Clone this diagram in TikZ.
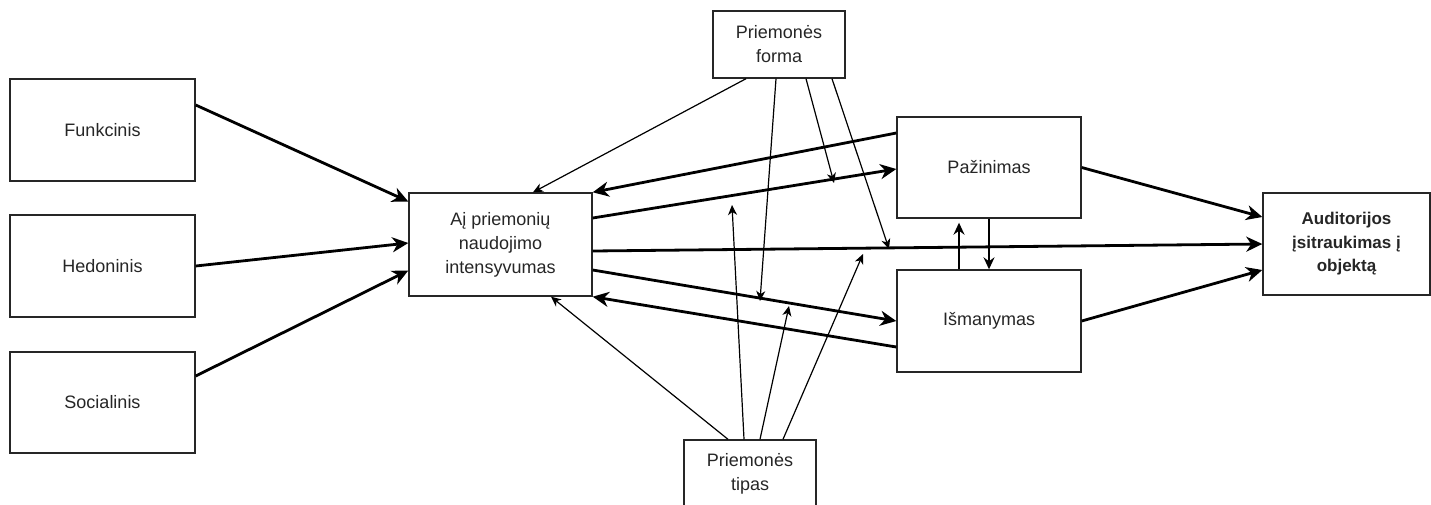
\documentclass[tikz,border=0pt]{standalone}
\usepackage{fontspec}
\setmainfont{Liberation Sans}
\usetikzlibrary{arrows.meta}
\begin{document}
\begin{tikzpicture}[x=1pt,y=-1pt,
  box/.style={draw=black!85, line width=1.4pt, fill=white, text=black!85,
    align=center, inner sep=0pt, font=\fontsize{18}{24}\selectfont},
  heavy/.style={draw=black, line width=2.8pt, -{Stealth[length=16pt,width=15pt,inset=5pt]}},
  medium/.style={draw=black, line width=1.8pt, -{Stealth[length=12pt,width=11pt,inset=4pt]}},
  light/.style={draw=black, line width=1.2pt, -{Stealth[length=10pt,width=9pt,inset=3pt]}},
]
\useasboundingbox (0,0) rectangle (1431,504);
\fill[white] (0,0) rectangle (1431,504);

% antecedents
\node[box, minimum width=185pt, minimum height=102pt] (fun) at (102.5,130) {Funkcinis};
\node[box, minimum width=185pt, minimum height=102pt] (hed) at (102.5,266) {Hedoninis};
\node[box, minimum width=185pt, minimum height=101pt] (soc) at (102.5,402.5) {Socialinis};

% central construct
\node[box, minimum width=183pt, minimum height=103pt] (ai) at (500.5,244.5)
  {Aį priemonių\\naudojimo\\intensyvumas};

% moderators
\node[box, minimum width=132pt, minimum height=67pt] (forma) at (779,44.5) {Priemonės\\forma};
\node[box, minimum width=132pt, minimum height=68pt] (tipas) at (750,474) {Priemonės\\tipas};

% mediators
\node[box, minimum width=184pt, minimum height=101pt] (paz) at (989,167.5) {Pažinimas};
\node[box, minimum width=184pt, minimum height=102pt] (ism) at (989,321) {Išmanymas};

% outcome
\node[box, minimum width=167pt, minimum height=102pt,
  font=\fontsize{17}{23.5}\selectfont\bfseries] (aud) at (1346.5,244)
  {Auditorijos\\įsitraukimas į\\objektą};

% points on the paths that the moderators act upon
\coordinate (fm1) at (760,301);
\coordinate (fm2) at (834,183);
\coordinate (fm3) at (889,249);
\coordinate (tm1) at (732,205);
\coordinate (tm2) at (789,306);
\coordinate (tm3) at (863,254);

% antecedents -> usage intensity
\draw[heavy] ([yshift=25pt]fun.east) -- ([yshift=43pt]ai.west);
\draw[heavy] (hed.east) -- ([yshift=1.5pt]ai.west);
\draw[heavy] ([yshift=26.5pt]soc.east) -- ([yshift=-26pt]ai.west);

% usage intensity <-> mediators, and the direct path
\draw[heavy] ([yshift=26.5pt]ai.east) -- ([yshift=-1.5pt]paz.west);
\draw[heavy] ([yshift=34.5pt]paz.west) -- (ai.north east);
\draw[heavy] ([yshift=-6.5pt]ai.east) -- (aud.west);
\draw[heavy] ([yshift=-25.5pt]ai.east) -- (ism.west);
\draw[heavy] ([yshift=-26pt]ism.west) -- (ai.south east);

% mediators -> outcome
\draw[heavy] (paz.east) -- ([yshift=27pt]aud.west);
\draw[heavy] (ism.east) -- ([yshift=-26pt]aud.west);

% between the mediators
\draw[medium] ([xshift=-30pt]ism.north) -- ([xshift=-30pt,yshift=-4pt]paz.south);
\draw[medium] (paz.south) -- (ism.north);

% moderator: form
\draw[light] ([xshift=-33pt]forma.south) -- ([xshift=32.5pt]ai.north);
\draw[light] ([xshift=-3pt]forma.south) -- (fm1);
\draw[light] ([xshift=27pt]forma.south) -- (fm2);
\draw[light] ([xshift=53pt]forma.south) -- (fm3);

% moderator: type
\draw[light] ([xshift=-22pt]tipas.north) -- ([xshift=50.5pt]ai.south);
\draw[light] ([xshift=-6pt]tipas.north) -- (tm1);
\draw[light] ([xshift=10pt]tipas.north) -- (tm2);
\draw[light] ([xshift=33pt]tipas.north) -- (tm3);
\end{tikzpicture}
\end{document}
